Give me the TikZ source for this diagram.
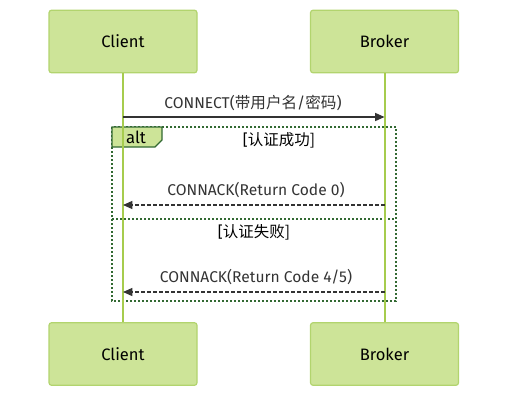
\documentclass[tikz,border=0pt]{standalone}
\usepackage{fontspec}
\setmainfont{Fira Sans}
\newfontfamily\cjk{Noto Sans CJK SC}
\usetikzlibrary{arrows.meta,positioning}

\definecolor{actorfill}{HTML}{CDE498}
\definecolor{actorline}{HTML}{B2D46E}
\definecolor{lifeline}{HTML}{A6CC4E}
\definecolor{altgreen}{HTML}{326932}
\definecolor{msgtext}{HTML}{333333}

\tikzset{
    actor/.style={draw=actorline,fill=actorfill,line width=0.9pt,rounded corners=2pt,
        minimum width=111pt,minimum height=47pt,inner sep=0pt,font=\fontsize{12.4}{15}\selectfont},
    life/.style={draw=lifeline,line width=1.5pt},
    msg/.style={draw=msgtext,line width=1pt,-{Triangle[length=7pt,width=6pt]}},
    reply/.style={msg,dash pattern=on 2.5pt off 2pt},
    frame/.style={draw=altgreen,line width=1.5pt,dash pattern=on 1.5pt off 1.5pt},
    lbl/.style={text=msgtext,inner sep=0pt,font=\fontsize{11.7}{14}\selectfont},
    guard/.style={text=black,inner sep=0pt,font=\fontsize{11.6}{14}\selectfont}
}

\begin{document}
\begin{tikzpicture}[x=0.75pt,y=-0.75pt]
    \useasboundingbox (0,0) rectangle (516,403);
    % actors
    \node[actor] (client) at (123,41.5) {Client};
    \node[actor] (broker) at (384.5,41.5) {Broker};
    \node[actor] (clientb) at (123,354) {Client};
    \node[actor] (brokerb) at (384.5,354) {Broker};
    % alt frame
    \draw[frame] (112,127) rectangle (396,301);
    \draw[frame] (112,219) -- (396,219);
    \filldraw[fill=actorfill,draw=altgreen,line width=0.9pt] (112,127) -- (162,127) -- (162,140) -- (155,147) -- (112,147) -- cycle;
    \node[guard,font=\fontsize{12.5}{15}\selectfont] (alt) at (136,137.5) {alt};
    \node[guard] (ok) at (279,140) {[\cjk 认证成功]};
    \node[guard] (fail) at (254,232) {[\cjk 认证失败]};
    % lifelines
    \draw[life] (client.south) -- (clientb.north);
    \draw[life] (broker.south) -- (brokerb.north);
    \coordinate (c1) at (client.south |- 0,117);
    \coordinate (b1) at (broker.south |- 0,117);
    \coordinate (c2) at (client.south |- 0,205);
    \coordinate (b2) at (broker.south |- 0,205);
    \coordinate (c3) at (client.south |- 0,292);
    \coordinate (b3) at (broker.south |- 0,292);
    % messages
    \draw[msg] (c1) -- (b1);
    \node[lbl] (m1) at (253,103) {CONNECT({\cjk 带用户名}/{\cjk 密码})};
    \draw[reply] (b2) -- (c2);
    \node[lbl] (m2) at (256,190) {CONNACK(Return Code 0)};
    \draw[reply] (b3) -- (c3);
    \node[lbl] (m3) at (256,277) {CONNACK(Return Code 4/5)};
\end{tikzpicture}
\end{document}
